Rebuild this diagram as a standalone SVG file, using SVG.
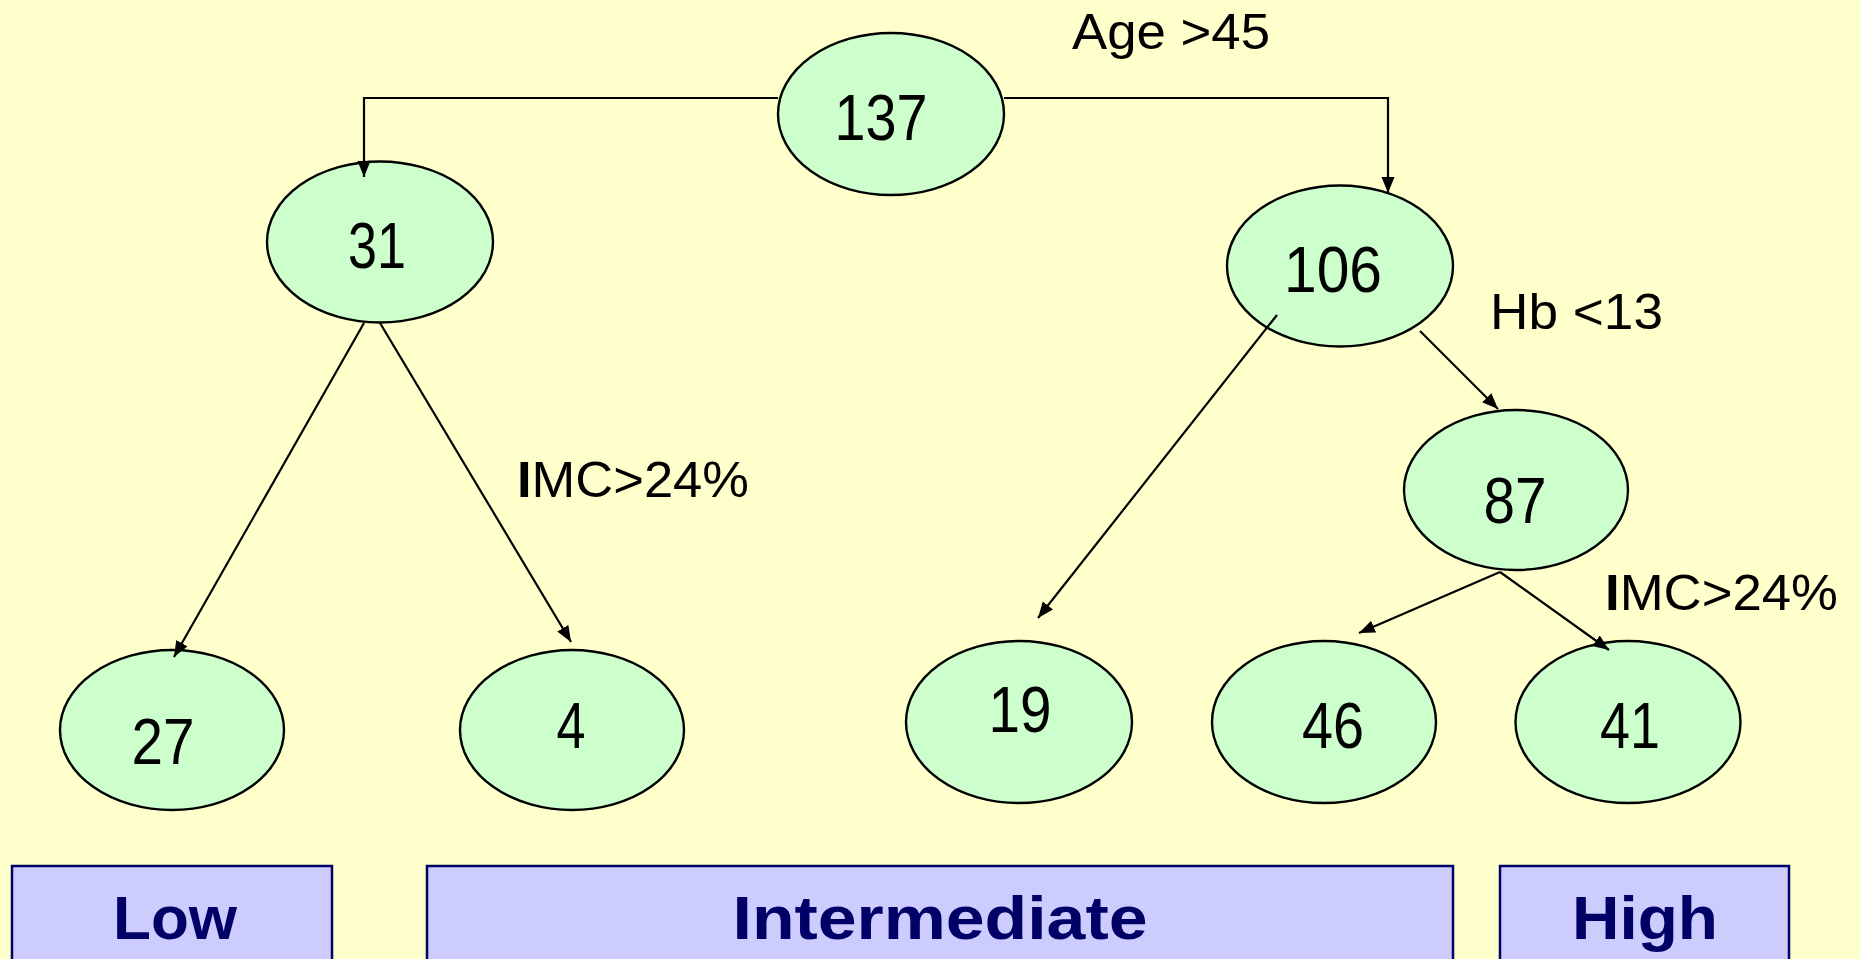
<svg xmlns="http://www.w3.org/2000/svg" width="1860" height="959" viewBox="0 0 1860 959">
  <style>
    .node { fill: #CCFFCC; stroke: #000000; stroke-width: 2.4; }
    .num { font-family: "Liberation Sans Narrow", "Liberation Sans", Arial, sans-serif; font-size: 64px; fill: #000000; text-anchor: middle; }
    .cond { font-family: "Liberation Sans", Arial, sans-serif; font-size: 50px; fill: #000000; }
    .edge { fill: none; stroke: #000000; stroke-width: 2.2; marker-end: url(#arrow); }
    .band { fill: #CCCCFF; stroke: #000066; stroke-width: 2.5; }
    .band-label { font-family: "Liberation Sans", Arial, sans-serif; font-weight: bold; font-size: 61px; fill: #000066; text-anchor: middle; }
  </style>
  <defs>
    <marker id="arrow" markerUnits="userSpaceOnUse" markerWidth="18" markerHeight="14" refX="16" refY="6.5" orient="auto">
      <path d="M0,0 L16,6.5 L0,13 z" fill="#000000"/>
    </marker>
  </defs>

  <rect x="0" y="0" width="1860" height="959" fill="#FFFFCC"/>

  <!-- tree nodes -->
  <g id="n137">
    <ellipse class="node" cx="891" cy="114" rx="113" ry="81"/>
    <text class="num" x="881" y="140" textLength="93" lengthAdjust="spacingAndGlyphs">137</text>
  </g>
  <g id="n31">
    <ellipse class="node" cx="380" cy="242" rx="113" ry="80.5"/>
    <text class="num" x="377" y="268" textLength="58" lengthAdjust="spacingAndGlyphs">31</text>
  </g>
  <g id="n106">
    <ellipse class="node" cx="1340" cy="266" rx="113" ry="80.5"/>
    <text class="num" x="1333" y="292" textLength="98" lengthAdjust="spacingAndGlyphs">106</text>
  </g>
  <g id="n87">
    <ellipse class="node" cx="1516" cy="490" rx="112" ry="80"/>
    <text class="num" x="1515" y="523" textLength="63" lengthAdjust="spacingAndGlyphs">87</text>
  </g>
  <g id="n27">
    <ellipse class="node" cx="172" cy="730" rx="112" ry="80"/>
    <text class="num" x="163" y="764" textLength="63" lengthAdjust="spacingAndGlyphs">27</text>
  </g>
  <g id="n4">
    <ellipse class="node" cx="572" cy="730" rx="112" ry="80"/>
    <text class="num" x="571" y="748" textLength="29" lengthAdjust="spacingAndGlyphs">4</text>
  </g>
  <g id="n19">
    <ellipse class="node" cx="1019" cy="722" rx="113" ry="81"/>
    <text class="num" x="1020" y="732" textLength="63" lengthAdjust="spacingAndGlyphs">19</text>
  </g>
  <g id="n46">
    <ellipse class="node" cx="1324" cy="722" rx="112" ry="81"/>
    <text class="num" x="1333" y="748" textLength="62" lengthAdjust="spacingAndGlyphs">46</text>
  </g>
  <g id="n41">
    <ellipse class="node" cx="1628" cy="722" rx="112.5" ry="81"/>
    <text class="num" x="1630" y="748" textLength="60" lengthAdjust="spacingAndGlyphs">41</text>
  </g>

  <!-- connectors -->
  <g id="connectors">
    <polyline class="edge" points="778,98 364,98 364,177"/>
    <polyline class="edge" points="1004,98 1388,98 1388,193"/>
    <line class="edge" x1="364" y1="323" x2="174" y2="657"/>
    <line class="edge" x1="380" y1="323" x2="571" y2="642"/>
    <line class="edge" x1="1277" y1="315" x2="1038" y2="618"/>
    <line class="edge" x1="1420" y1="331" x2="1498" y2="409"/>
    <line class="edge" x1="1500" y1="572" x2="1359" y2="633"/>
    <line class="edge" x1="1500" y1="572" x2="1609" y2="650"/>
  </g>

  <!-- split conditions -->
  <g id="conditions">
    <text class="cond" x="1072" y="49" textLength="198" lengthAdjust="spacingAndGlyphs">Age &gt;45</text>
    <text class="cond" x="1490" y="329" textLength="173" lengthAdjust="spacingAndGlyphs">Hb &lt;13</text>
    <text class="cond" x="517" y="497" textLength="232" lengthAdjust="spacingAndGlyphs"><tspan font-weight="bold">I</tspan>MC&gt;24%</text>
    <text class="cond" x="1605" y="610" textLength="233" lengthAdjust="spacingAndGlyphs"><tspan font-weight="bold">I</tspan>MC&gt;24%</text>
  </g>

  <!-- risk bands -->
  <g id="band-low">
    <rect class="band" x="12" y="866" width="320" height="110"/>
    <text class="band-label" x="175" y="939" textLength="124" lengthAdjust="spacingAndGlyphs">Low</text>
  </g>
  <g id="band-intermediate">
    <rect class="band" x="427" y="866" width="1026" height="110"/>
    <text class="band-label" x="940" y="939" textLength="415" lengthAdjust="spacingAndGlyphs">Intermediate</text>
  </g>
  <g id="band-high">
    <rect class="band" x="1500" y="866" width="289" height="110"/>
    <text class="band-label" x="1645" y="939" textLength="146" lengthAdjust="spacingAndGlyphs">High</text>
  </g>
</svg>
